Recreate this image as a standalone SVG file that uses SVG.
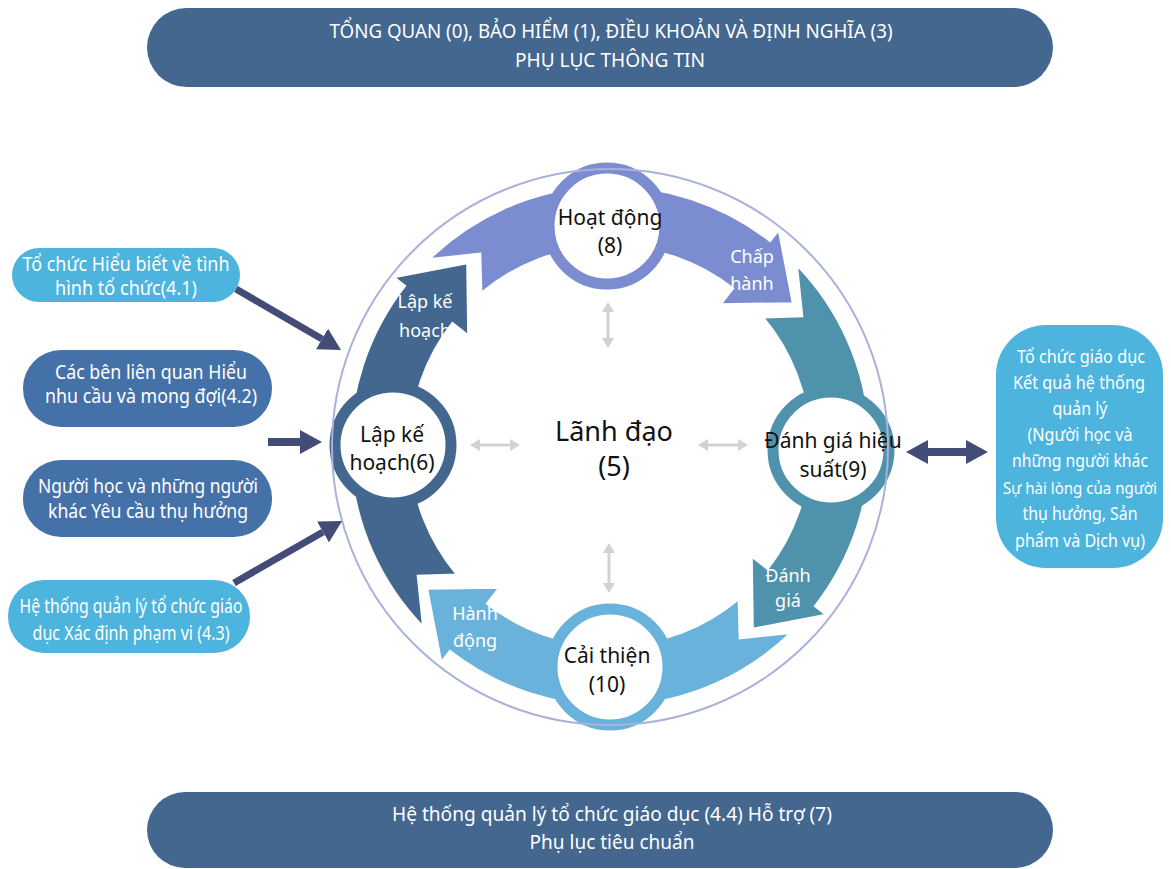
<svg xmlns="http://www.w3.org/2000/svg" width="1171" height="869" viewBox="0 0 1171 869">
<defs>
<style>
text{font-family:"Noto Sans","Open Sans",sans-serif;text-anchor:middle}
.bn{font-size:19px;fill:#ffffff}
.bx{font-size:19px;fill:#ffffff}
.rb{font-size:18px;fill:#ffffff}
.al{font-size:18px;fill:#ffffff}
.nd{font-size:21px;fill:#111111}
.ct{font-size:27px;fill:#111111}
.ring{fill:#ffffff;stroke-width:11}
.band{stroke:#ffffff;stroke-width:2;stroke-linejoin:miter}
.nav{stroke:#434B77;fill:none}
.gry{stroke:#D2D2D2;stroke-width:3;fill:none}
</style>
<marker id="nh" viewBox="0 0 22 24" refX="0" refY="12" markerWidth="22" markerHeight="24" markerUnits="userSpaceOnUse" orient="auto-start-reverse"><path d="M0,0 L22,12 L0,24 z" fill="#434B77"/></marker>
<marker id="gh" viewBox="0 0 10 12" refX="0" refY="6" markerWidth="10" markerHeight="12" markerUnits="userSpaceOnUse" orient="auto-start-reverse"><path d="M0,0 L10,6 L0,12 z" fill="#D2D2D2"/></marker>
</defs>
<rect width="1171" height="869" fill="#ffffff"/>

<g id="banner-top">
<rect x="147" y="8" width="906" height="79" rx="39.5" fill="#44678F"/>
<text class="bn" x="611" y="38" textLength="563" lengthAdjust="spacingAndGlyphs">TỔNG QUAN (0), BẢO HIỂM (1), ĐIỀU KHOẢN VÀ ĐỊNH NGHĨA (3)</text>
<text class="bn" x="610" y="67" textLength="190" lengthAdjust="spacingAndGlyphs">PHỤ LỤC THÔNG TIN</text>
</g>

<g id="banner-bottom">
<rect x="147" y="792" width="906" height="76" rx="38" fill="#44678F"/>
<text class="bn" x="612" y="821" textLength="440" lengthAdjust="spacingAndGlyphs">Hệ thống quản lý tổ chức giáo dục (4.4) Hỗ trợ (7)</text>
<text class="bn" x="612" y="849" textLength="165" lengthAdjust="spacingAndGlyphs">Phụ lục tiêu chuẩn</text>
</g>

<g id="cycle-arrows">
<path id="arrow-chap-hanh" class="band" fill="#7B8DD0" d="M429.4,259.0 A260,260 0 0 1 770.1,241.1 L778.7,230.1 L792.8,303.2 L720.8,304.2 L733.1,288.4 A200,200 0 0 0 481.4,292.8 L480.3,253.7 Z"/>
<path id="arrow-danh-gia" class="band" fill="#4E92AB" d="M797.0,265.4 A260,260 0 0 1 814.9,606.1 L825.9,614.7 L752.8,628.8 L751.8,556.8 L767.6,569.1 A200,200 0 0 0 763.2,317.4 L802.3,316.3 Z"/>
<path id="arrow-hanh-dong" class="band" fill="#69B2DB" d="M790.6,633.0 A260,260 0 0 1 449.9,650.9 L441.3,661.9 L427.2,588.8 L499.2,587.8 L486.9,603.6 A200,200 0 0 0 738.6,599.2 L739.7,638.3 Z"/>
<path id="arrow-lap-ke-hoach" class="band" fill="#44678F" d="M423.0,626.6 A260,260 0 0 1 405.1,285.9 L394.1,277.3 L467.2,263.2 L468.2,335.2 L452.4,322.9 A200,200 0 0 0 456.8,574.6 L417.7,575.7 Z"/>
<text class="al" x="752" y="263">Chấp</text>
<text class="al" x="752" y="290">hành</text>
<text class="al" x="788" y="582">Đánh</text>
<text class="al" x="788" y="607">giá</text>
<text class="al" x="475" y="620">Hành</text>
<text class="al" x="475" y="647">động</text>
<text class="al" x="425" y="308">Lập kế</text>
<text class="al" x="425" y="337">hoạch</text>
</g>

<g id="node-hoat-dong">
<circle class="ring" cx="607" cy="226" r="58" stroke="#7B8DD0"/>
<text class="nd" x="610" y="225">Hoạt động</text>
<text class="nd" x="610" y="253">(8)</text>
</g>

<g id="node-lap-ke-hoach">
<circle class="ring" cx="393" cy="445" r="58" stroke="#44678F"/>
<text class="nd" x="392" y="442">Lập kế</text>
<text class="nd" x="392" y="470">hoạch(6)</text>
</g>

<g id="node-danh-gia">
<circle class="ring" cx="831" cy="450" r="58" stroke="#4E92AB"/>
<text class="nd" x="833" y="448">Đánh giá hiệu</text>
<text class="nd" x="833" y="477">suất(9)</text>
</g>

<g id="node-cai-thien">
<circle class="ring" cx="610" cy="667" r="58" stroke="#69B2DB"/>
<text class="nd" x="607" y="663">Cải thiện</text>
<text class="nd" x="607" y="692">(10)</text>
</g>

<g id="outer-circle">
<circle cx="610" cy="447" r="278" fill="none" stroke="#A9B2DA" stroke-width="2"/>
</g>

<g id="node-lanh-dao">
<text class="ct" x="614" y="441">Lãnh đạo</text>
<text class="ct" x="614" y="476">(5)</text>
</g>

<g id="box-4-1">
<rect x="12" y="248" width="228" height="54" rx="27" fill="#4DB4DE"/>
<text class="bx" x="126" y="271" textLength="207" lengthAdjust="spacingAndGlyphs">Tổ chức Hiểu biết về tình</text>
<text class="bx" x="126" y="295" textLength="142" lengthAdjust="spacingAndGlyphs">hình tổ chức(4.1)</text>
</g>

<g id="box-4-2">
<rect x="23" y="350" width="249" height="77" rx="38" fill="#4571A9"/>
<text class="bx" x="151" y="379" textLength="192" lengthAdjust="spacingAndGlyphs">Các bên liên quan Hiểu</text>
<text class="bx" x="151" y="403" textLength="212" lengthAdjust="spacingAndGlyphs">nhu cầu và mong đợi(4.2)</text>
</g>

<g id="box-nguoi-hoc">
<rect x="23" y="460" width="249" height="77" rx="38" fill="#4571A9"/>
<text class="bx" x="148" y="493" textLength="220" lengthAdjust="spacingAndGlyphs">Người học và những người</text>
<text class="bx" x="148" y="518" textLength="200" lengthAdjust="spacingAndGlyphs">khác Yêu cầu thụ hưởng</text>
</g>

<g id="box-4-3">
<rect x="8" y="580" width="242" height="73" rx="36" fill="#4DB4DE"/>
<text class="bx" x="131" y="613" textLength="223" lengthAdjust="spacingAndGlyphs">Hệ thống quản lý tổ chức giáo</text>
<text class="bx" x="131" y="640" textLength="197" lengthAdjust="spacingAndGlyphs">dục Xác định phạm vi (4.3)</text>
</g>

<g id="box-ket-qua">
<rect x="996" y="325" width="167" height="243" rx="50" fill="#4DB4DE"/>
<text class="rb" x="1081" y="363" textLength="128" lengthAdjust="spacingAndGlyphs">Tổ chức giáo dục</text>
<text class="rb" x="1079" y="389" textLength="132" lengthAdjust="spacingAndGlyphs">Kết quả hệ thống</text>
<text class="rb" x="1080" y="415" textLength="55" lengthAdjust="spacingAndGlyphs">quản lý</text>
<text class="rb" x="1080" y="441" textLength="105" lengthAdjust="spacingAndGlyphs">(Người học và</text>
<text class="rb" x="1080" y="467" textLength="136" lengthAdjust="spacingAndGlyphs">những người khác</text>
<text class="rb" x="1080" y="494" style="font-size:16px" textLength="154" lengthAdjust="spacingAndGlyphs">Sự hài lòng của người</text>
<text class="rb" x="1080" y="520" textLength="115" lengthAdjust="spacingAndGlyphs">thụ hưởng, Sản</text>
<text class="rb" x="1080" y="547" textLength="130" lengthAdjust="spacingAndGlyphs">phẩm và Dịch vụ)</text>
</g>

<g id="connectors">
<path class="nav" stroke-width="7" d="M236,289 L322,339" marker-end="url(#nh)"/>
<path class="nav" stroke-width="8" d="M268,442 L300,442" marker-end="url(#nh)"/>
<path class="nav" stroke-width="7" d="M234,583 L323,532" marker-end="url(#nh)"/>
<path class="nav" stroke-width="8" d="M928,452 L966,452" marker-start="url(#nh)" marker-end="url(#nh)"/>
<path class="gry" d="M608,312 L608,338" marker-start="url(#gh)" marker-end="url(#gh)"/>
<path class="gry" d="M609,553 L609,583" marker-start="url(#gh)" marker-end="url(#gh)"/>
<path class="gry" d="M480,445 L510,445" marker-start="url(#gh)" marker-end="url(#gh)"/>
<path class="gry" d="M708,445 L738,445" marker-start="url(#gh)" marker-end="url(#gh)"/>
</g>
</svg>
